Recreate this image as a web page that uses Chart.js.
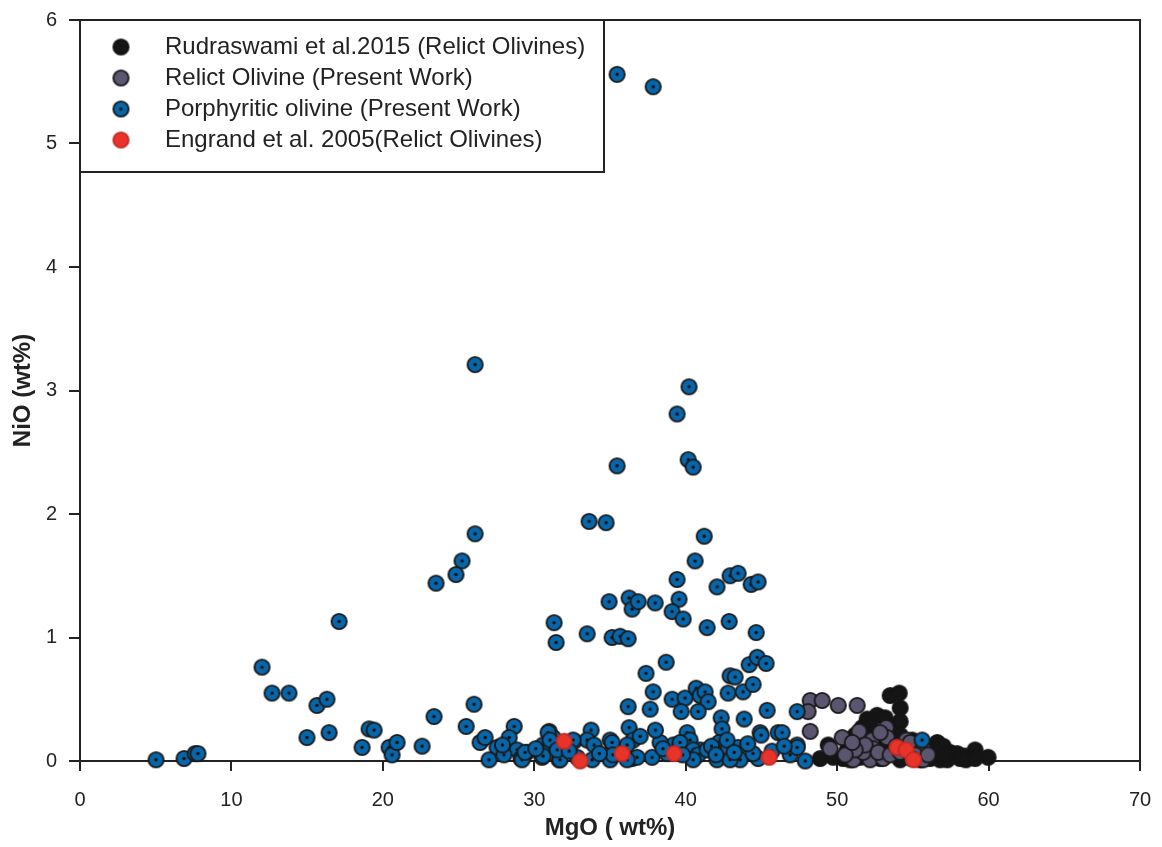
<!DOCTYPE html>
<html>
<head>
<meta charset="utf-8">
<script src="https://cdn.jsdelivr.net/npm/chart.js@4.4.1/dist/chart.umd.min.js"></script>
<style>
  html, body { margin: 0; padding: 0; background: #fff; }
  #wrap { width: 1162px; height: 847px; position: relative; }
</style>
</head>
<body>
<div id="wrap"><canvas id="c" width="1162" height="847"></canvas></div>
<script>
// ---- DATA (MgO wt%, NiO wt%) ----
const seriesLabels = [
  'Rudraswami et al.2015 (Relict Olivines)',
  'Relict Olivine (Present Work)',
  'Porphyritic olivine (Present Work)',
  'Engrand et al. 2005(Relict Olivines)'
];

const rudraswami2015 = [
  [53.50,0.53],[54.10,0.55],[54.16,0.43],[52.64,0.37],[51.98,0.34],[54.16,0.32],[51.65,0.27],
  [51.19,0.21],[52.84,0.17],[53.50,0.13],[54.16,0.13],[55.15,0.11],[55.81,0.07],[56.61,0.15],
  [57.00,0.12],[57.46,0.07],[57.93,0.06],[58.45,0.04],[59.11,0.09],[59.97,0.03],[58.12,0.02],
  [56.80,0.01],[55.48,0.01],[54.16,0.01],[52.84,0.02],[51.52,0.03],[50.66,0.09],[50.40,0.02],
  [49.74,0.03],[48.88,0.02],[49.41,0.13],[52.18,0.07],[54.95,0.17],[56.14,0.02],[57.27,0.01],
  [54.49,0.05],[50.86,0.01],[53.50,0.25],[53.17,0.35],[54.16,0.21],[52.18,0.29],[56.30,0.09],
  [57.10,0.05],[58.50,0.01],[59.11,0.02]
];

const relictPresent = [
  [48.22,0.49],[49.01,0.49],[50.07,0.45],[51.32,0.45],[48.08,0.40],[48.22,0.24],[49.54,0.10],
  [50.33,0.19],[51.45,0.24],[51.06,0.01],[52.31,0.17],[52.38,0.10],[53.24,0.27],[53.30,0.19],
  [52.18,0.01],[53.04,0.02],[54.56,0.17],[54.82,0.15],[55.68,0.10],[55.68,0.01],[53.83,0.09],
  [51.72,0.07],[51.85,0.13],[52.71,0.07],[53.50,0.05],[55.15,0.05],[54.16,0.07],[51.19,0.09],
  [50.53,0.05],[52.84,0.23],[51.00,0.15],[53.90,0.12],[54.90,0.02],[56.00,0.05]
];

const porphyriticPresent = [
  [35.47,5.56],[37.85,5.46],[26.09,3.21],[40.22,3.03],[39.43,2.81],[40.16,2.44],[40.49,2.38],
  [35.47,2.39],[33.62,1.94],[34.74,1.93],[26.09,1.84],[41.22,1.82],[40.62,1.62],[25.23,1.62],
  [24.83,1.51],[23.51,1.44],[17.11,1.13],[31.31,1.12],[31.44,0.96],
  [39.43,1.47],[42.07,1.41],[42.93,1.50],[43.46,1.52],[44.32,1.43],[44.78,1.45],[34.94,1.29],
  [36.26,1.32],[36.46,1.23],[36.86,1.29],[37.98,1.28],[39.56,1.31],[39.10,1.21],[39.83,1.15],
  [41.41,1.08],[42.87,1.13],[44.65,1.04],[33.49,1.03],[35.14,1.00],[35.67,1.01],[36.20,0.99],
  [38.71,0.80],[37.38,0.71],[44.19,0.78],[44.72,0.84],[45.31,0.79],[42.93,0.69],[43.26,0.68],
  [12.02,0.76],[12.68,0.55],[13.80,0.55],[15.65,0.45],[16.31,0.50],[14.99,0.19],[16.45,0.23],
  [18.63,0.11],[19.09,0.26],[19.42,0.25],[20.41,0.11],[20.61,0.05],[20.94,0.15],[22.59,0.12],
  [23.38,0.36],[5.02,0.01],[6.87,0.02],[7.60,0.06],[7.79,0.06],[25.50,0.28],[26.02,0.46],
  [26.42,0.15],[26.75,0.19],[27.54,0.11],[27.01,0.01],[28.67,0.28],[28.34,0.19],[28.86,0.09],
  [29.13,0.02],[29.52,0.07],[30.51,0.03],[30.58,0.13],[30.98,0.24],[31.24,0.19],[31.57,0.13],
  [31.64,0.01],[32.63,0.16],[33.75,0.25],[33.49,0.17],[33.95,0.13],[33.82,0.01],[35.01,0.17],
  [35.20,0.09],[35.01,0.01],[36.20,0.44],[36.26,0.27],[36.53,0.17],[36.46,0.02],
  [37.85,0.56],[39.10,0.50],[39.96,0.51],[40.69,0.59],[40.95,0.53],[41.28,0.56],[41.48,0.48],
  [37.65,0.42],[39.70,0.40],[40.82,0.40],[42.80,0.55],[43.79,0.56],[44.45,0.62],[45.38,0.41],
  [43.86,0.34],[47.36,0.40],[42.34,0.35],[42.40,0.26],[42.21,0.15],[36.99,0.20],[36.13,0.13],
  [40.09,0.23],[40.29,0.17],[40.95,0.09],[39.17,0.13],[37.78,0.03],[36.79,0.03],[42.80,0.11],
  [43.46,0.11],[44.91,0.23],[46.10,0.23],[47.36,0.13],[47.89,0.00],[44.78,0.02],
  [29.19,0.01],[29.39,0.07],[30.91,0.23],[30.58,0.04],[31.04,0.17],[31.70,0.01],[32.56,0.17],
  [35.14,0.15],[38.31,0.15],[38.77,0.06],[39.63,0.15],[40.49,0.09],[40.82,0.05],[41.41,0.09],
  [42.73,0.17],[43.59,0.01],[44.98,0.21],[44.45,0.06],[46.90,0.05],[42.07,0.01],[42.93,0.01],
  [40.49,0.01],[36.13,0.01],[35.20,0.05],[32.83,0.03],[31.51,0.09],[46.37,0.23],[47.36,0.11],
  [55.61,0.17],[38.00,0.25],[38.50,0.10],[39.80,0.05],[41.70,0.12],[42.00,0.05],[43.20,0.07],
  [44.10,0.14],[45.70,0.08],[46.50,0.12],[34.30,0.06],[32.30,0.08],[30.10,0.10],[28.00,0.05],
  [27.90,0.13]
];

const engrand2005 = [
  [31.97,0.16],[33.03,0.00],[35.80,0.06],[39.23,0.06],[45.51,0.03],[53.96,0.11],[54.55,0.09],[55.05,0.01]
];

const xTicks = [0, 10, 20, 30, 40, 50, 60, 70];
const yTicks = [0, 1, 2, 3, 4, 5, 6];

// ---- MARKERS ----
function makeMarker(fill, border, dot) {
  const s = 19, c = document.createElement('canvas');
  c.width = s; c.height = s;
  const g = c.getContext('2d');
  g.beginPath(); g.arc(s/2, s/2, 7.6, 0, Math.PI*2);
  g.fillStyle = fill; g.fill();
  g.lineWidth = 1.9; g.strokeStyle = border; g.stroke();
  if (dot) { g.beginPath(); g.arc(s/2, s/2, 1.7, 0, Math.PI*2); g.fillStyle = '#111'; g.fill(); }
  return c;
}
const mBlack = makeMarker('#151515', '#151515', false);
const mPurple = makeMarker('#5b5570', '#1a1a1a', false);
const mBlue = makeMarker('#0766a9', '#1a1a1a', true);
const mRed = makeMarker('#e8332b', '#c42a24', false);

const toPts = arr => arr.map(p => ({x: p[0], y: p[1]}));

const datasets = [
  {label: seriesLabels[0], data: toPts(rudraswami2015), pointStyle: mBlack, order: 4},
  {label: seriesLabels[1], data: toPts(relictPresent), pointStyle: mPurple, order: 3},
  {label: seriesLabels[2], data: toPts(porphyriticPresent), pointStyle: mBlue, order: 2},
  {label: seriesLabels[3], data: toPts(engrand2005), pointStyle: mRed, order: 1}
].map(d => Object.assign(d, {pointRadius: 8, pointHoverRadius: 8, showLine: false, clip: false}));

const FONT = '"Liberation Sans", Arial, sans-serif';
const INK = '#222';

const framePlugin = {
  id: 'frameAndLegend',
  afterDraw(chart) {
    const {ctx, chartArea: a} = chart;
    ctx.save();
    // top and right border of frame
    ctx.strokeStyle = INK; ctx.lineWidth = 2;
    ctx.beginPath();
    ctx.moveTo(a.left, a.top); ctx.lineTo(a.right, a.top); ctx.lineTo(a.right, a.bottom);
    ctx.stroke();
    // legend box
    const bx = a.left, by = a.top, bw = 524, bh = 152;
    ctx.fillStyle = '#fff';
    ctx.fillRect(bx, by, bw, bh);
    ctx.strokeRect(bx, by, bw, bh);
    const markers = [mBlack, mPurple, mBlue, mRed];
    ctx.font = '24px ' + FONT;
    ctx.fillStyle = INK;
    ctx.textBaseline = 'middle';
    ctx.textAlign = 'left';
    seriesLabels.forEach((t, i) => {
      const yy = by + 27 + i * 31;
      const m = markers[i];
      ctx.drawImage(m, bx + 41 - m.width/2, yy - m.height/2);
      ctx.fillText(t, bx + 85, yy);
    });
    ctx.restore();
  }
};

new Chart(document.getElementById('c'), {
  type: 'scatter',
  data: { datasets },
  options: {
    responsive: false,
    animation: false,
    layout: { padding: { top: 20, right: 22, left: 0, bottom: 0 } },
    plugins: { legend: { display: false }, tooltip: { enabled: false } },
    scales: {
      x: {
        type: 'linear', min: 0, max: 70,
        afterFit: s => { s.height = 86; s.paddingLeft = 0; s.paddingRight = 0; },
        afterBuildTicks: s => { s.ticks = xTicks.map(v => ({value: v})); },
        ticks: { color: INK, font: { family: FONT, size: 20 }, padding: 17, maxRotation: 0 },
        grid: { drawOnChartArea: false, drawTicks: true, tickLength: 10, color: INK, lineWidth: 2 },
        border: { display: true, color: INK, width: 2 },
        title: { display: true, text: 'MgO ( wt%)', color: INK, font: { family: FONT, size: 24, weight: 'bold' }, padding: { top: 0, bottom: 4 } }
      },
      y: {
        type: 'linear', min: 0, max: 6,
        afterFit: s => { s.width = 80; s.paddingTop = 0; s.paddingBottom = 0; },
        afterBuildTicks: s => { s.ticks = yTicks.map(v => ({value: v})); },
        ticks: { color: INK, font: { family: FONT, size: 20 }, padding: 12 },
        grid: { drawOnChartArea: false, drawTicks: true, tickLength: 11, color: INK, lineWidth: 2 },
        border: { display: true, color: INK, width: 2 },
        title: { display: true, text: 'NiO (wt%)', color: INK, font: { family: FONT, size: 24, weight: 'bold' }, padding: { top: 9, bottom: 0 } }
      }
    }
  },
  plugins: [framePlugin]
});
</script>
</body>
</html>
